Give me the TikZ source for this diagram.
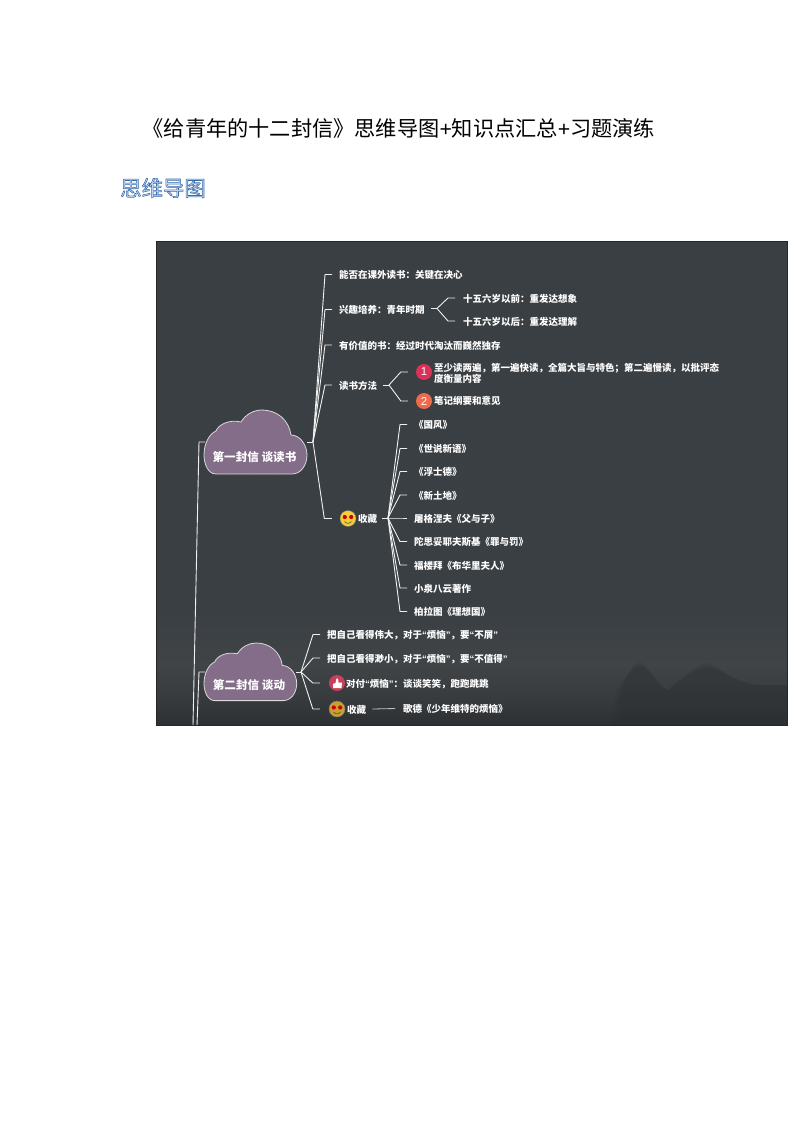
\documentclass[tikz,border=0pt]{standalone}
\usepackage{fontspec}
\setmainfont{Noto Sans CJK SC}
\newfontfamily\latn{Liberation Sans}
\newfontfamily\headfont[FakeBold=2.6]{Noto Sans CJK SC}
\usetikzlibrary{calc,fadings,patterns}
\definecolor{panelbg}{HTML}{3A3F43}
\definecolor{paneldk}{HTML}{2D3033}
\definecolor{panellt}{HTML}{404447}
\definecolor{cloudfill}{HTML}{836D89}
\definecolor{lineclr}{HTML}{F0F0F0}
\definecolor{badgeA}{HTML}{DB3158}
\definecolor{badgeB}{HTML}{EE6A4C}
\definecolor{badgeC}{HTML}{C8405C}
\definecolor{smileA}{HTML}{F5CF35}
\definecolor{smileB}{HTML}{C8A02E}
\newcommand\qL{{\latn “}}
\newcommand\qR{{\latn ”}}
\newcommand\qbranch[4][7]{\draw[conn] (#2) -- ($(#3.west)+(-#4-#1,0)$) -- ($(#3.west)+(-#4,0)$);}
\newcommand\cloudpath{(12,64) .. controls (4,64) and (0,54) .. (0,45) .. controls (0,34) and (5,24) .. (12,21) .. controls (14,15) and (25,9) .. (37,12) .. controls (42,4) and (50,0) .. (58,0) .. controls (73,0) and (85,10) .. (87,25) .. controls (96,25) and (103,35) .. (103,45) .. controls (103,55) and (97,64) .. (88,64) -- cycle}
\newcommand\smiley[3]{%
  \fill[#3] (#1,#2) circle (8);
  \draw[black!55,line width=.4] (#1,#2) circle (8);
  \fill[red!80!black] (#1-3.2,#2-1.5) circle (2.1) (#1+3.2,#2-1.5) circle (2.1);
  \draw[black!70,line width=.6] (#1-3.5,#2+3) .. controls (#1-1,#2+5.5) and (#1+1,#2+5.5) .. (#1+3.5,#2+3);
}
\tikzset{
  x=1pt,y=-1pt,
  conn/.style={draw=lineclr,line width=.9pt,line join=round},
  leaf/.style={anchor=west,inner sep=0pt,text=white,font=\fontsize{9.5}{10}\selectfont\bfseries,text height=9pt,text depth=1pt},
  cloudshape/.style={fill=cloudfill,draw=white!85!black,line width=.8pt},
  cloudtext/.style={inner sep=0pt,text=white,font=\fontsize{11.6}{12}\selectfont\bfseries},
  badge/.style={circle,inner sep=0pt,minimum size=16pt,text=white,font=\latn\fontsize{11.5}{12}\selectfont},
}
\begin{document}
\begin{tikzpicture}
\useasboundingbox (0,0) rectangle (794,1123);
\fill[white] (0,0) rectangle (794,1123);
% heading
\node[anchor=west,inner sep=0pt,font=\fontsize{21.2}{24}\selectfont] (title) at (142.5,128) {《给青年的十二封信》思维导图{\latn +}知识点汇总{\latn +}习题演练};
\node[anchor=west,inner sep=0pt,font=\fontsize{21.4}{24}\selectfont] (head) at (120,188) {\special{pdf:bcolor [0.80 0.87 0.95] [0.22 0.42 0.68]}\headfont 思维导图\special{pdf:ecolor}};
% panel
\fill[panelbg] (156,241) rectangle (787.5,725.5);
\fill[pattern=crosshatch dots,pattern color=panellt,opacity=.35] (156,241) rectangle (787.5,725.5);
\shade[top color=panelbg,bottom color=panellt] (156,610) rectangle (787.5,665);
\shade[top color=panellt,bottom color=paneldk,middle color=panellt!60!paneldk] (156,665) rectangle (787.5,725.5);
\foreach \o/\a in {6/.12,4/.14,2/.16,0/.18}{
  \fill[paneldk,opacity=\a] (618-\o,725) -- (622-\o,690) .. controls (630,670) and (634,662+\o) .. (640,662+\o) .. controls (648,664) and (660,690) .. (668,690) .. controls (680,680) and (698,663+\o) .. (708,663+\o) .. controls (720,668) and (735,682) .. (752+\o,685) -- (787,685) -- (787,725) -- cycle;
}
\draw[black!85,line width=.7pt] (156,241) rectangle (787.5,725.5);
% clouds
\begin{scope}[shift={(204,410)}]
  \path[cloudshape] \cloudpath;
\end{scope}
\begin{scope}[shift={(204,643)},x=.9pt,y=-.9pt]
  \path[cloudshape] \cloudpath;
\end{scope}
\node[cloudtext] (c1) at (254.5,457) {第一封信 谈读书};
\node[cloudtext] (c2) at (249,685) {第二封信 谈动};
\coordinate (c1L) at (205,442);
\coordinate (c2L) at (205,672);
\coordinate (c1E) at (199,442);
\coordinate (c2E) at (199,672);
\coordinate (rootA) at (193,725);
\coordinate (rootB) at (197,725);
\draw[conn] (c1L) -- (c1E) -- (rootA);
\draw[conn] (c2L) -- (c2E) -- (rootB);
\coordinate (c1R) at (307,442);
\coordinate (c1H) at (313,442);
\coordinate (c2R) at (296,672);
\coordinate (c2H) at (301,672);
\draw[conn] (c1R) -- (c1H);
\draw[conn] (c2R) -- (c2H);
% first cloud
\node[leaf] (a1) at (339,274.5) {能否在课外读书：关键在决心};
\node[leaf] (a2) at (339,309.5) {兴趣培养：青年时期};
\node[leaf] (a3) at (339,345) {有价值的书：经过时代淘汰而巍然独存};
\node[leaf] (a4) at (339,385) {读书方法};
\node[badge,fill=none] (a5i) at (348,518.5) {};
\smiley{348}{518.5}{smileA}
\node[leaf] (a5) at (358,518) {收藏};
\qbranch{c1H}{a1}{7}
\qbranch{c1H}{a2}{7}
\qbranch{c1H}{a3}{7}
\qbranch{c1H}{a4}{7}
\qbranch[7.5]{c1H}{a5i}{8}
% interest
\coordinate (a2o) at (431,308.5);
\coordinate (a2h) at (437,308.5);
\draw[conn] (a2o) -- (a2h);
\node[leaf] (b1) at (463,298) {十五六岁以前：重发达想象};
\node[leaf] (b2) at (463,321) {十五六岁以后：重发达理解};
\qbranch{a2h}{b1}{8}
\qbranch{a2h}{b2}{8}
% methods
\coordinate (a4o) at (383,385);
\coordinate (a4h) at (389,385);
\draw[conn] (a4o) -- (a4h);
\node[badge,fill=badgeA] (m1i) at (424,372) {1};
\node[badge,fill=badgeB] (m2i) at (424,401) {2};
\node[leaf,text height=,text depth=,align=left,font=\fontsize{9.5}{10}\selectfont\bfseries] (m1) at (434,373) {至少读两遍，第一遍快读，全篇大旨与特色；第二遍慢读，以批评态\\度衡量内容};
\node[leaf] (m2) at (434,400.5) {笔记纲要和意见};
\qbranch{a4h}{m1i}{8}
\qbranch{a4h}{m2i}{8}
% collection
\coordinate (a5o) at (382,518);
\coordinate (a5h) at (388,518);
\draw[conn] (a5o) -- (a5h);
\node[leaf] (k1) at (414,424.5) {《国风》};
\node[leaf] (k2) at (414,448.5) {《世说新语》};
\node[leaf] (k3) at (414,471.5) {《浮士德》};
\node[leaf] (k4) at (414,495) {《新土地》};
\node[leaf] (k5) at (414,518) {屠格涅夫《父与子》};
\node[leaf] (k6) at (414,541.5) {陀思妥耶夫斯基《罪与罚》};
\node[leaf] (k7) at (414,565) {福楼拜《布华里夫人》};
\node[leaf] (k8) at (414,588) {小泉八云著作};
\node[leaf] (k9) at (414,611.5) {柏拉图《理想国》};
\foreach \k in {k1,k2,k3,k4,k5,k6,k7,k8,k9}{\qbranch{a5h}{\k}{7}}
% second cloud
\node[leaf] (d1) at (327,634.5) {把自己看得伟大，对于\qL 烦恼\qR ，要\qL 不屑\qR};
\node[leaf] (d2) at (327,658) {把自己看得渺小，对于\qL 烦恼\qR ，要\qL 不值得\qR};
\node[badge,fill=badgeC] (d3i) at (337,683) {};
\fill[white] (333,684) -- (333,688) -- (341.5,688) -- (342,682.5) -- (338.5,682.5) -- (338,678.5) -- (336.5,678.5) -- (335.5,683) -- cycle;
\node[leaf] (d3) at (346,683) {对付\qL 烦恼\qR ：谈谈笑笑，跑跑跳跳};
\node[badge,fill=none] (d4i) at (337,709) {};
\smiley{337}{709}{smileB}
\node[leaf] (d4) at (347,709) {收藏};
\node[leaf] (d5) at (403,708.5) {歌德《少年维特的烦恼》};
\draw[draw=lineclr!80!black,line width=.8pt] ($(d4.east)+(6,0)$) -- ($(d5.west)+(-8,0)$);
\qbranch{c2H}{d1}{7}
\qbranch{c2H}{d2}{7}
\qbranch[7]{c2H}{d3i}{9}
\qbranch[7]{c2H}{d4i}{9}
\end{tikzpicture}
\end{document}
